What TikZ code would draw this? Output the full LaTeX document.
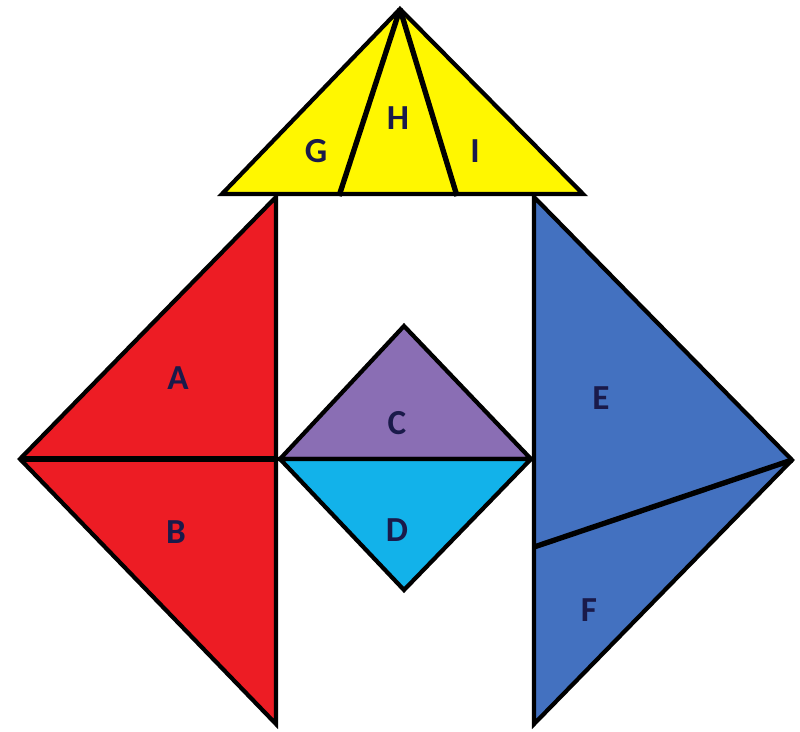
\documentclass[tikz,border=0pt]{standalone}
\usepackage{fontspec}
\setmainfont{Carlito}
\usetikzlibrary{positioning}
\definecolor{tanred}{HTML}{ED1C24}
\definecolor{tanblue}{HTML}{4371C0}
\definecolor{tanpurple}{HTML}{8A6EB4}
\definecolor{tancyan}{HTML}{12B2EA}
\definecolor{tanyellow}{HTML}{FFF700}
\definecolor{tanlabel}{HTML}{1A1A4A}
\begin{document}
\begin{tikzpicture}[
		x=0.025cm, y=-0.025cm,
		piece/.style={
			draw=black,
			line width=3pt,
			line join=miter
		},
		cut/.style={
			draw=black,
			line width=3.8pt
		},
		lbl/.style={
			text=tanlabel,
			font=\fontsize{25}{27}\selectfont\bfseries
		}
		]
		
		\useasboundingbox (0,0) rectangle (800,731);
		
		% corners
		\coordinate (apex) at (400,9);
		\coordinate (yl) at (222,194);
		\coordinate (yr) at (583,194);
		\coordinate (g) at (339,196);
		\coordinate (h) at (457,196);
		
		\coordinate (rtop) at (276,197);
		\coordinate (rleft) at (20,459);
		\coordinate (rmid) at (276,459);
		\coordinate (rbot) at (276,724);
		
		\coordinate (dtop) at (404,326);
		\coordinate (dleft) at (280,459);
		\coordinate (dright) at (531,459);
		\coordinate (dbot) at (404,590);
		
		\coordinate (btop) at (534,197);
		\coordinate (bright) at (792,460);
		\coordinate (bbot) at (534,724);
		\coordinate (bcut) at (534,547);
		
		% yellow
		\filldraw[piece, fill=tanyellow] (apex)--(yr)--(yl)--cycle;
		\draw[cut] (apex)--(g);
		\draw[cut] (apex)--(h);
		
		% red
		\filldraw[piece, fill=tanred] (rtop)--(rbot)--(rleft)--cycle;
		\draw[cut] (rleft)--(rmid);
		
		% middle
		\filldraw[piece, fill=tanpurple] (dleft)--(dtop)--(dright)--cycle;
		\filldraw[piece, fill=tancyan] (dleft)--(dbot)--(dright)--cycle;
		
		% blue
		\filldraw[piece, fill=tanblue] (btop)--(bright)--(bbot)--cycle;
		\draw[cut] (bright)--(bcut);
		
		\node[lbl] (G) at (316,151) {G};
		\node[lbl] (H) at (398,118) {H};
		\node[lbl] (I) at (475,151) {I};
		\node[lbl] (A) at (178,378) {A};
		\node[lbl] (B) at (176,532) {B};
		\node[lbl] (C) at (397,423) {C};
		\node[lbl] (D) at (397,530) {D};
		\node[lbl] (E) at (601,398) {E};
		\node[lbl] (F) at (589,610) {F};
		
	\end{tikzpicture}
\end{document}
